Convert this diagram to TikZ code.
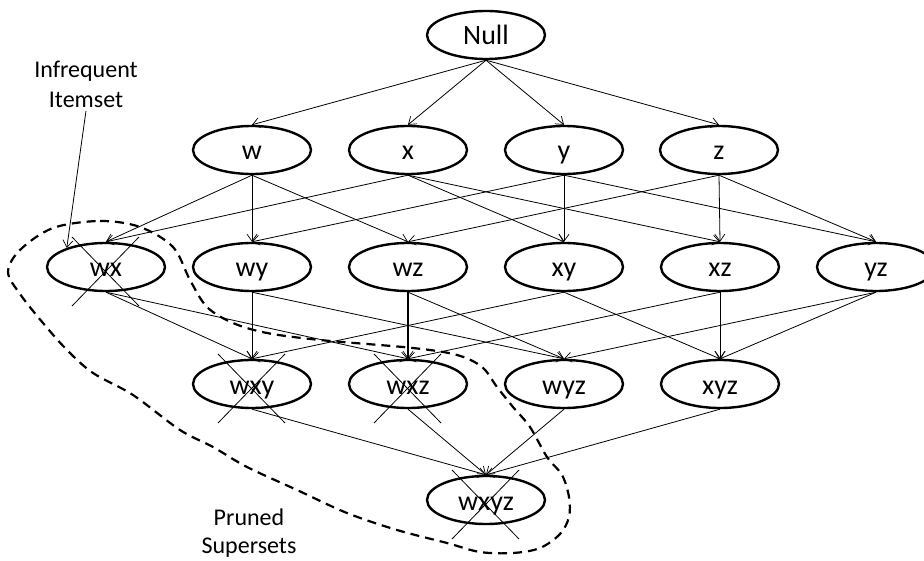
\documentclass[tikz,border=0pt]{standalone}
\usepackage{fontspec}
\setmainfont{Carlito}
\usetikzlibrary{shapes.geometric,arrows.meta}
\begin{document}
\begin{tikzpicture}[x=1pt,y=-1pt,
  itemset/.style={ellipse,draw,line width=2.4pt,minimum width=118pt,minimum height=48pt,
    inner sep=0pt,text height=20pt,text depth=0pt,font=\fontsize{28}{30}\selectfont},
  link/.style={line width=0.8pt,-{Straight Barb[length=7pt,width=10pt,line width=0.7pt]}},
  strong/.style={link,line width=1.5pt},
  prune/.style={line width=0.8pt},
  note/.style={align=center,font=\fontsize{24}{30}\selectfont},
  boundary/.style={line width=2.2pt,dash pattern=on 9pt off 6pt}]
\useasboundingbox (0,0) rectangle (924,561);

% lattice of itemsets
\node[itemset] (null) at (486,35) {Null};
\node[itemset] (w) at (252,150) {w};
\node[itemset] (x) at (408,150) {x};
\node[itemset] (y) at (564,150) {y};
\node[itemset] (z) at (719,150) {z};
\node[itemset] (wx) at (106,267) {wx};
\node[itemset] (wy) at (252,267) {wy};
\node[itemset] (wz) at (408,267) {wz};
\node[itemset] (xy) at (564,267) {xy};
\node[itemset] (xz) at (720,267) {xz};
\node[itemset] (yz) at (876,267) {yz};
\node[itemset] (wxy) at (252,384) {wxy};
\node[itemset] (wxz) at (408,384) {wxz};
\node[itemset] (wyz) at (564,384) {wyz};
\node[itemset] (xyz) at (720,384) {xyz};
\node[itemset] (wxyz) at (486,500) {wxyz};

% subset -> superset links
\foreach \a/\b in {null/w,null/x,null/y,null/z,
    w/wx,w/wy,w/wz,x/wx,x/xy,x/xz,y/wy,y/xy,y/yz,z/wz,z/xz,z/yz,
    wx/wxy,wx/wxz,wy/wxy,wy/wyz,wz/wyz,xy/wxy,xy/xyz,xz/wxz,xz/xyz,yz/wyz,yz/xyz,
    wxy/wxyz,wxz/wxyz,wyz/wxyz,xyz/wxyz}
  \draw[link] (\a.south) -- (\b.north);
\draw[strong] (wz.south) -- (wxz.north);

% crossed-out (pruned) itemsets
\foreach \n in {wx,wxy,wxz,wxyz}{
  \draw[prune] ([shift={(-34,-30)}]\n.center) -- ([shift={(33,39)}]\n.center);
  \draw[prune] ([shift={(33,-30)}]\n.center) -- ([shift={(-34,39)}]\n.center);
}

% region of pruned supersets
\draw[boundary] plot[smooth cycle,tension=0.55] coordinates {
  (53,228) (100,221) (140,227) (173,247) (190,280) (207,307) (233,323) (267,333)
  (320,340) (413,348) (457,355) (482,367) (497,387) (513,407) (530,427) (547,457)
  (562,475) (569,497) (569,517) (560,534) (540,548) (513,553) (480,552) (447,543)
  (397,530) (347,513) (297,490) (247,467) (213,447) (180,430) (133,395) (93,373)
  (67,350) (43,323) (20,294) (8,272) (20,250)};

% annotations
\node[note] (inf) at (86,84) {Infrequent\\Itemset};
\draw[link] (inf.south) -- (wx.154);
\node[note,font=\fontsize{24}{28}\selectfont] (pruned) at (249,533) {Pruned\\Supersets};
\end{tikzpicture}
\end{document}
